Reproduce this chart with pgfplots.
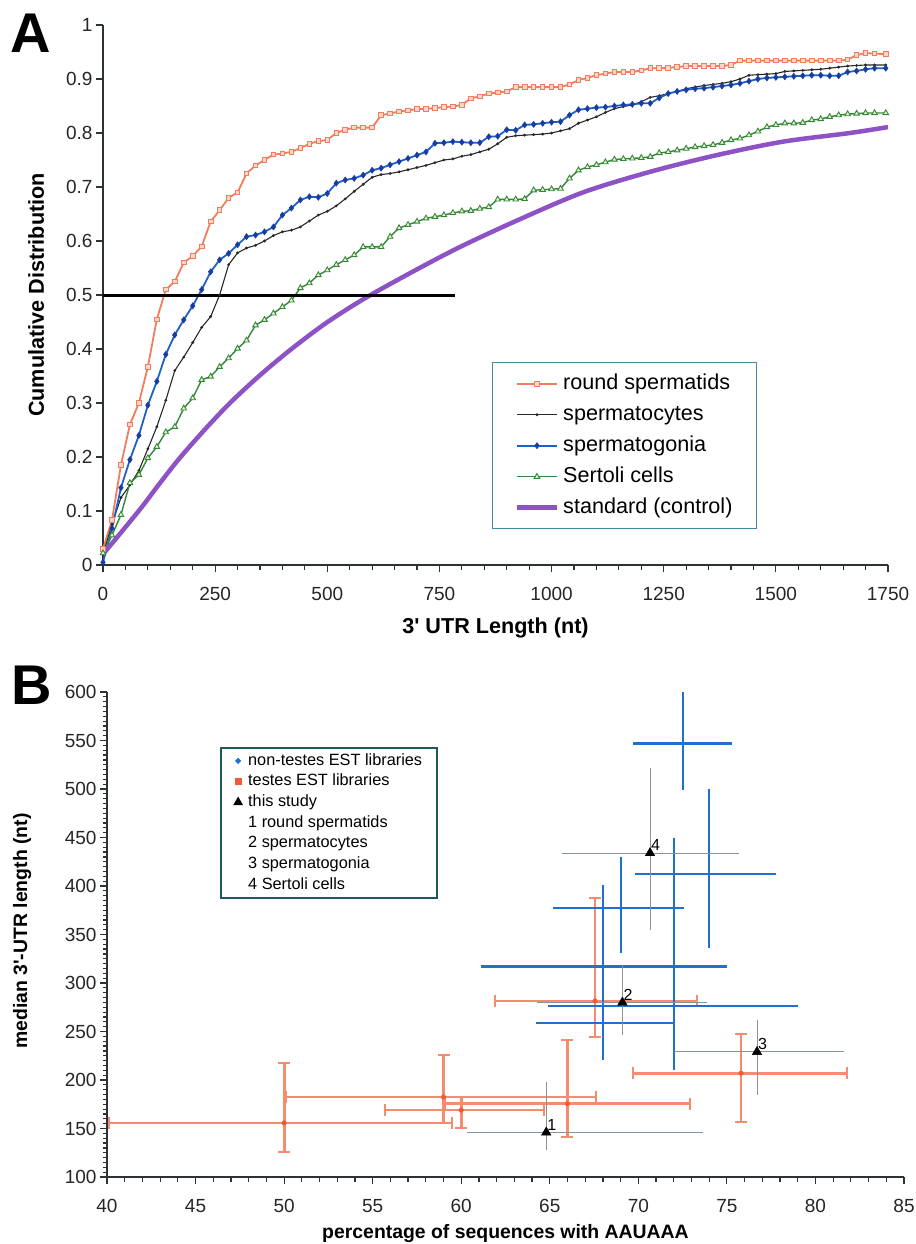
\documentclass[border=0pt]{standalone}
\usepackage{fontspec}
\setmainfont{Liberation Sans}
\usepackage{pgfplots}
\pgfplotsset{compat=1.18}

\definecolor{axisc}{RGB}{45,50,55}
\definecolor{cOr}{RGB}{242,124,94}
\definecolor{cOrFill}{RGB}{252,214,200}
\definecolor{cBlk}{RGB}{40,40,40}
\definecolor{cBlu}{RGB}{30,96,200}
\definecolor{cBluD}{RGB}{25,60,160}
\definecolor{cGrn}{RGB}{50,135,60}
\definecolor{cGrnF}{RGB}{238,244,196}
\definecolor{cPur}{RGB}{140,82,198}
\definecolor{legA}{RGB}{70,140,160}
\definecolor{legB}{RGB}{30,90,90}
\definecolor{bBlue}{RGB}{31,112,208}
\definecolor{bOrL}{RGB}{245,140,112}
\definecolor{bOrD}{RGB}{240,90,56}
\definecolor{bGray}{RGB}{135,148,155}

\pgfplotsset{
  mystyle/.style={
    scale only axis,
    axis lines*=left,
    axis line style={line width=1.4pt, color=axisc},
    tick align=outside,
    major tick length=7pt, minor tick length=4.5pt,
    tick style={line width=1.2pt, color=axisc},
    tick label style={font=\fontsize{19}{19}\selectfont, color=black!85},
    label style={font=\fontsize{21.6}{22}\selectfont\bfseries},
    /pgf/number format/assume math mode=true,
    /pgf/number format/1000 sep={},
  }
}

\begin{document}
\begin{tikzpicture}[x=1pt,y=1pt]
\useasboundingbox (0,0) rectangle (915,-1244);
\node[font=\fontsize{56}{56}\selectfont\bfseries] at (31,-33) {A};
\node[font=\fontsize{56}{56}\selectfont\bfseries] at (31.5,-685) {B};

% ---------------- Panel A ----------------
\begin{axis}[mystyle,
  at={(103pt,-565pt)}, anchor=south west,
  width=785pt, height=540pt,
  xmin=0, xmax=1750, ymin=0, ymax=1,
  xtick={0,250,500,750,1000,1250,1500,1750},
  minor x tick num=4,
  ytick={0,0.1,0.2,0.3,0.4,0.5,0.6,0.7,0.8,0.9,1},
  xticklabel style={yshift=-12pt},
  xlabel={3\textquotesingle{} UTR Length (nt)},
  ylabel={Cumulative Distribution},
  xlabel style={at={(axis description cs:0.5,-0.117)}, anchor=center},
  ylabel style={at={(axis description cs:-0.0853,0.5)}, anchor=center},
  legend image code/.code={\draw[mark repeat=2,mark phase=2,#1] plot coordinates {(0pt,0pt) (20pt,0pt) (40pt,0pt)};},
  legend cell align=left,
  legend style={at={(0.4955,0.376)}, anchor=north west, draw=legA, line width=1.5pt, fill=white,
    font=\fontsize{21.6}{24}\selectfont, row sep=7pt, inner xsep=22pt, inner ysep=9pt,
    nodes={inner sep=2pt, text height=15.5pt, text depth=4.5pt},
    /tikz/every odd column/.append style={column sep=2pt}},
]
\addplot[color=cOr, line width=1.8pt, mark=square*, mark size=2.3pt, mark options={fill=cOrFill, line width=0.9pt}] coordinates {
(0,0.03)(20,0.083)(40,0.185)(60,0.26)(80,0.30)(100,0.367)(120,0.455)(140,0.51)(160,0.525)(180,0.56)
(200,0.572)(220,0.59)(240,0.636)(260,0.657)(280,0.68)(300,0.69)(320,0.725)(340,0.74)(360,0.75)(380,0.76)
(400,0.762)(420,0.765)(440,0.772)(460,0.78)(480,0.785)(500,0.787)(520,0.80)(540,0.806)(560,0.81)(580,0.81)
(600,0.81)(620,0.833)(640,0.836)(660,0.84)(680,0.842)(700,0.844)(720,0.845)(740,0.846)(760,0.848)(780,0.849)
(800,0.852)(820,0.864)(840,0.868)(860,0.873)(880,0.875)(900,0.877)(920,0.885)(940,0.885)(960,0.885)(980,0.885)
(1000,0.885)(1020,0.885)(1040,0.89)(1060,0.898)(1080,0.902)(1100,0.907)(1120,0.910)(1140,0.913)(1160,0.913)(1180,0.913)
(1200,0.916)(1220,0.92)(1240,0.92)(1260,0.921)(1280,0.922)(1300,0.924)(1320,0.924)(1340,0.924)(1360,0.924)(1380,0.924)
(1400,0.926)(1420,0.934)(1440,0.934)(1460,0.934)(1480,0.934)(1500,0.934)(1520,0.934)(1540,0.934)(1560,0.934)(1580,0.934)
(1600,0.934)(1620,0.934)(1640,0.934)(1660,0.936)(1680,0.944)(1700,0.948)(1720,0.947)(1745,0.946)
};
\addlegendentry{round spermatids}
\addplot[color=cBlk, line width=1.1pt, mark=*, mark size=0.8pt] coordinates {
(0,0.02)(20,0.075)(40,0.125)(60,0.148)(80,0.175)(100,0.215)(120,0.256)(140,0.305)(160,0.36)(180,0.385)
(200,0.412)(220,0.44)(240,0.46)(260,0.50)(280,0.556)(300,0.578)(320,0.587)(340,0.592)(360,0.60)(380,0.61)
(400,0.617)(420,0.62)(440,0.626)(460,0.637)(480,0.648)(500,0.655)(520,0.665)(540,0.678)(560,0.692)(580,0.705)
(600,0.718)(620,0.723)(640,0.725)(660,0.728)(680,0.732)(700,0.736)(720,0.74)(740,0.745)(760,0.75)(780,0.752)
(800,0.757)(820,0.76)(840,0.765)(860,0.77)(880,0.78)(900,0.792)(920,0.795)(940,0.796)(960,0.797)(980,0.798)
(1000,0.80)(1020,0.804)(1040,0.808)(1060,0.818)(1080,0.824)(1100,0.83)(1120,0.838)(1140,0.845)(1160,0.849)(1180,0.852)
(1200,0.858)(1220,0.866)(1240,0.869)(1260,0.873)(1280,0.877)(1300,0.882)(1320,0.885)(1340,0.888)(1360,0.89)(1380,0.892)
(1400,0.895)(1420,0.9)(1440,0.907)(1460,0.908)(1480,0.909)(1500,0.91)(1520,0.914)(1540,0.915)(1560,0.916)(1580,0.917)
(1600,0.918)(1620,0.92)(1640,0.922)(1660,0.924)(1680,0.925)(1700,0.926)(1720,0.926)(1745,0.926)
};
\addlegendentry{spermatocytes}
\addplot[color=cBlu, line width=1.8pt, mark=diamond*, mark size=3pt, mark options={fill=cBluD, draw=cBluD, line width=0.6pt}] coordinates {
(0,0.005)(20,0.068)(40,0.143)(60,0.195)(80,0.24)(100,0.296)(120,0.34)(140,0.39)(160,0.426)(180,0.454)
(200,0.48)(220,0.51)(240,0.543)(260,0.565)(280,0.577)(300,0.593)(320,0.608)(340,0.611)(360,0.617)(380,0.626)
(400,0.648)(420,0.661)(440,0.676)(460,0.682)(480,0.681)(500,0.688)(520,0.707)(540,0.713)(560,0.716)(580,0.722)
(600,0.731)(620,0.735)(640,0.741)(660,0.747)(680,0.753)(700,0.759)(720,0.765)(740,0.781)(760,0.782)(780,0.784)
(800,0.783)(820,0.782)(840,0.782)(860,0.793)(880,0.794)(900,0.806)(920,0.805)(940,0.815)(960,0.816)(980,0.818)
(1000,0.82)(1020,0.821)(1040,0.833)(1060,0.843)(1080,0.845)(1100,0.847)(1120,0.848)(1140,0.85)(1160,0.852)(1180,0.853)
(1200,0.855)(1220,0.855)(1240,0.865)(1260,0.873)(1280,0.877)(1300,0.88)(1320,0.882)(1340,0.883)(1360,0.885)(1380,0.887)
(1400,0.889)(1420,0.892)(1440,0.896)(1460,0.90)(1480,0.902)(1500,0.903)(1520,0.904)(1540,0.905)(1560,0.906)(1580,0.907)
(1600,0.907)(1620,0.906)(1640,0.906)(1660,0.913)(1680,0.915)(1700,0.918)(1720,0.92)(1745,0.92)
};
\addlegendentry{spermatogonia}
\addplot[color=cGrn, line width=1.4pt, mark=triangle*, mark size=3.2pt, mark options={fill=cGrnF, line width=0.9pt}] coordinates {
(0,0.022)(20,0.055)(40,0.093)(60,0.152)(80,0.167)(100,0.198)(120,0.219)(140,0.246)(160,0.256)(180,0.29)
(200,0.309)(220,0.343)(240,0.349)(260,0.367)(280,0.383)(300,0.401)(320,0.416)(340,0.444)(360,0.454)(380,0.466)
(400,0.478)(420,0.49)(440,0.513)(460,0.522)(480,0.537)(500,0.546)(520,0.556)(540,0.565)(560,0.574)(580,0.589)
(600,0.589)(620,0.589)(640,0.608)(660,0.624)(680,0.63)(700,0.636)(720,0.642)(740,0.645)(760,0.648)(780,0.652)
(800,0.655)(820,0.656)(840,0.66)(860,0.663)(880,0.677)(900,0.677)(920,0.677)(940,0.678)(960,0.694)(980,0.695)
(1000,0.696)(1020,0.697)(1040,0.716)(1060,0.731)(1080,0.737)(1100,0.741)(1120,0.746)(1140,0.751)(1160,0.752)(1180,0.753)
(1200,0.754)(1220,0.756)(1240,0.763)(1260,0.765)(1280,0.768)(1300,0.771)(1320,0.774)(1340,0.776)(1360,0.778)(1380,0.782)
(1400,0.787)(1420,0.79)(1440,0.796)(1460,0.803)(1480,0.811)(1500,0.815)(1520,0.818)(1540,0.818)(1560,0.819)(1580,0.824)
(1600,0.826)(1620,0.83)(1640,0.833)(1660,0.835)(1680,0.836)(1700,0.837)(1720,0.837)(1745,0.837)
};
\addlegendentry{Sertoli cells}
\addplot[color=cPur, line width=4.5pt, smooth, tension=0.5, no marks] coordinates {
(0,0.02)(45,0.065)(89,0.11)(130,0.155)(171,0.198)(226,0.25)(283,0.3)(348,0.35)(417,0.398)(497,0.448)(584,0.494)
(690,0.543)(796,0.589)(923,0.638)(1070,0.69)(1219,0.728)(1368,0.759)(1516,0.784)(1665,0.80)(1750,0.811)
};
\addlegendentry{standard (control)}
\addplot[forget plot, black, line width=3pt] coordinates {(0,0.5) (785,0.5)};
\end{axis}

% ---------------- Panel B ----------------
\begin{axis}[mystyle,
  at={(107pt,-1177pt)}, anchor=south west,
  width=797pt, height=485pt,
  xmin=40, xmax=85, ymin=100, ymax=600,
  xtick={40,45,...,85}, minor x tick num=4,
  ytick={100,150,...,600}, minor y tick num=9,
  xticklabel style={yshift=-12pt},
  label style={font=\fontsize{19.4}{20}\selectfont\bfseries},
  xlabel={percentage of sequences with AAUAAA},
  ylabel={median 3\textquotesingle-UTR length (nt)},
  xlabel style={at={(axis description cs:0.5,-0.117)}, anchor=center},
  ylabel style={at={(axis description cs:-0.1066,0.507)}, anchor=center},
  legend image code/.code={\draw[#1] plot coordinates {(0pt,0pt)};},
  legend cell align=left,
  legend style={at={(0.1418,0.8866)}, anchor=north west, draw=legB, line width=2.2pt, fill=white,
    font=\fontsize{16.3}{18}\selectfont, row sep=3.2pt, inner xsep=14pt, inner ysep=4pt,
    nodes={inner sep=1pt, text height=12pt, text depth=3.5pt},
    /tikz/every odd column/.append style={column sep=6pt}},
]
% testes EST libraries (orange)
\addplot+[forget plot, only marks, mark=*, mark size=2.3pt, color=bOrD, mark options={fill=bOrD, draw=bOrD},
  error bars/.cd, x dir=both, x explicit, y dir=both, y explicit,
  error bar style={line width=2.8pt, color=bOrL},
  error mark options={rotate=90, line width=2pt, mark size=6pt, color=bOrL}] coordinates {
(50.0,155.7) += (9.5,61.8) -= (9.9,29.9)
(59.0,182.5) += (8.6,43.3) -= (8.9,26.8)
(60.0,169.0) += (4.7,13.5) -= (4.3,18.5)
(66.0,175.5) += (6.9,65.5) -= (6.9,34.5)
(67.55,281.5) += (5.75,106.1) -= (5.65,37.5)
(75.8,207.0) += (6.0,40.0) -= (6.1,50.0)
};
% non-testes EST libraries (blue)
\addplot+[forget plot, only marks, mark=*, mark size=1.6pt, color=bBlue, mark options={fill=bBlue, draw=bBlue},
  error bars/.cd, x dir=both, x explicit, y dir=both, y explicit, error mark=none,
  error bar style={line width=2.2pt, color=bBlue}] coordinates {
(72.5,547) += (2.8,58) -= (2.8,48)
(74.0,412) += (3.8,88) -= (4.2,76)
(69.0,377) += (3.6,53) -= (3.8,46)
(68.0,317) += (7.0,84) -= (6.9,96)
(68.0,259) += (4.0,31) -= (3.8,29)
(72.0,276) += (7.0,174) -= (7.1,66)
};
% this study (black triangles)
\addplot+[forget plot, only marks, mark=triangle*, mark size=5.5pt, color=black, mark options={fill=black, draw=black},
  error bars/.cd, x dir=both, x explicit, y dir=both, y explicit, error mark=none,
  error bar style={line width=1pt, color=bGray}] coordinates {
(64.8,146) += (8.85,52) -= (4.5,18)
(69.1,280) += (4.8,38.5) -= (4.8,34)
(76.7,229) += (4.9,33) -= (4.7,44.5)
(70.66,434) += (5.04,87.6) -= (4.96,79.4)
};
\addplot[forget plot, only marks, mark=none, nodes near coords, point meta=explicit symbolic,
  nodes near coords style={anchor=south west, inner sep=1pt, yshift=1pt, font=\fontsize{16}{16}\selectfont}] coordinates {
(64.8,146)[1] (69.1,280)[2] (76.7,229)[3] (70.66,434)[4]
};
\addlegendimage{only marks, mark=*, mark size=1.6pt, color=bBlue}
\addlegendentry{non-testes EST libraries}
\addlegendimage{only marks, mark=square*, mark size=2.4pt, color=bOrD}
\addlegendentry{testes EST libraries}
\addlegendimage{only marks, mark=triangle*, mark size=3.5pt, color=black}
\addlegendentry{this study}
\addlegendimage{empty legend}
\addlegendentry{1 round spermatids}
\addlegendimage{empty legend}
\addlegendentry{2 spermatocytes}
\addlegendimage{empty legend}
\addlegendentry{3 spermatogonia}
\addlegendimage{empty legend}
\addlegendentry{4 Sertoli cells}
\end{axis}
\end{tikzpicture}
\end{document}
